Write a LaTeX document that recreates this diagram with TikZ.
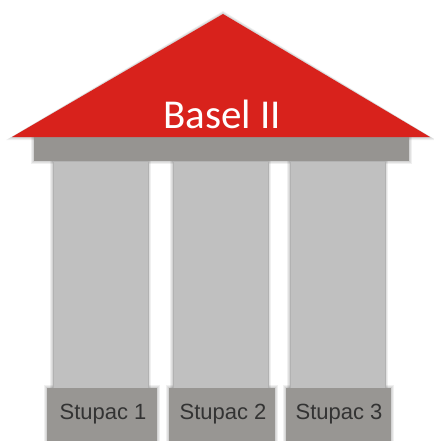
\documentclass[tikz,border=0pt]{standalone}
\usepackage{fontspec}
\setmainfont{Liberation Sans}
\newfontfamily\calfont{Carlito}
\definecolor{roofred}{RGB}{216,34,28}
\definecolor{beamgray}{RGB}{150,148,145}
\definecolor{colgray}{RGB}{192,192,192}
\definecolor{basegray}{RGB}{152,150,147}
\begin{document}
\begin{tikzpicture}[x=1pt,y=-1pt,
  shade1/.style={fill=black,opacity=0.06},
  column/.style={fill=colgray,draw=black!30,line width=0.6pt},
  basebox/.style={fill=basegray},
  lbl/.style={font=\fontsize{22}{24}\selectfont,text=black!80}]
\useasboundingbox (0,0) rectangle (433,441);
\fill[white] (0,0) rectangle (433,441);
% soft shadows
\foreach \a in {1,2,3}{
  \fill[shade1] (53-\a,161) rectangle (148+\a,388);
  \fill[shade1] (173-\a,161) rectangle (268+\a,388);
  \fill[shade1] (290-\a,161) rectangle (385+\a,388);
  \fill[shade1] (34-\a,137) rectangle (409+\a,161+\a);
  \fill[shade1] (47-\a,388-\a) rectangle (157+\a,441);
  \fill[shade1] (169-\a,388-\a) rectangle (275+\a,441);
  \fill[shade1] (286-\a,388-\a) rectangle (391+\a,441);
  \fill[shade1] (223,14-\a) -- (12-2*\a,137+\a) -- (430+2*\a,137+\a) -- cycle;
}
% columns
\draw[column] (53,161) rectangle (148,388);
\draw[column] (173,161) rectangle (268,388);
\draw[column] (290,161) rectangle (385,388);
% beam
\fill[beamgray] (34,137) rectangle (409,161);
% roof
\fill[roofred] (223,14) -- (12,137) -- (430,137) -- cycle;
\node[text=white,font=\calfont\fontsize{41}{44}\selectfont] (roof) at (222,114) {Basel II};
% bases
\fill[basebox] (47,388) rectangle (157,441);
\fill[basebox] (169,388) rectangle (275,441);
\fill[basebox] (286,388) rectangle (391,441);
\node[lbl] (s1) at (103,414) {Stupac 1};
\node[lbl] (s2) at (223,414) {Stupac 2};
\node[lbl] (s3) at (339,414) {Stupac 3};
\end{tikzpicture}
\end{document}
